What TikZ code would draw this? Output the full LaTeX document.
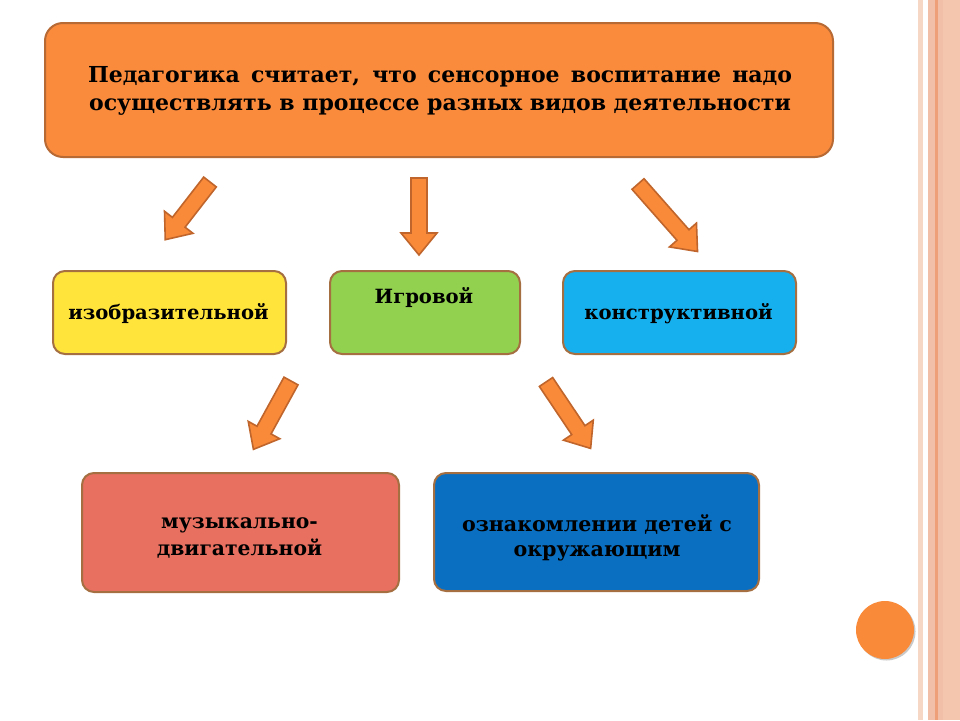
\documentclass[tikz,border=0pt]{standalone}
\usepackage{fontspec}
\setmainfont{DejaVu Serif}
\definecolor{orangebox}{HTML}{FA8B3D}
\definecolor{orangeline}{HTML}{B86A35}
\definecolor{boxline}{HTML}{A56F42}
\definecolor{yellowbox}{HTML}{FFE43C}
\definecolor{greenbox}{HTML}{92D050}
\definecolor{cyanbox}{HTML}{17B0EE}
\definecolor{redbox}{HTML}{E87060}
\definecolor{bluebox}{HTML}{0A6EC1}
\definecolor{arrowfill}{HTML}{F98A3A}
\definecolor{arrowline}{HTML}{C0652B}
\definecolor{stripeA}{HTML}{F6D6C4}
\definecolor{stripeB}{HTML}{F1BFA8}
\definecolor{stripeC}{HTML}{EE9F78}
\definecolor{stripeD}{HTML}{F4C6AE}
\newcommand\blockarrow[4]{%
  \coordinate (#1) at #2;
  \draw[arrowstyle, shift={(#1)}, rotate=#3]
    (0,-8) -- ({#4-22},-8) -- ({#4-22},-18) -- (#4,0) -- ({#4-22},18) -- ({#4-22},8) -- (0,8) -- cycle;
}
\begin{document}
\begin{tikzpicture}[x=1pt,y=-1pt,
  box/.style={draw=boxline, line width=2pt, rounded corners=12pt, inner sep=0pt, anchor=north west},
  txt/.style={font=\bfseries\fontsize{19.6}{26}\selectfont, align=center, text=black, inner sep=0pt},
  arrowstyle/.style={fill=arrowfill, draw=arrowline, line width=1.6pt, line join=miter}]
\useasboundingbox (0,0) rectangle (960,720);
\fill[white] (0,0) rectangle (960,720);
% right stripes
\fill[stripeA] (918,0) rectangle (923,720);
\fill[stripeB] (928,0) rectangle (935,720);
\fill[stripeC] (935,0) rectangle (937.5,720);
\fill[stripeB] (937.5,0) rectangle (943,720);
\fill[stripeD] (943,0) rectangle (960,720);
% circle
\fill[black!35, opacity=0.6] (886.5,631.5) circle (29);
\fill[arrowfill] (885,630) circle (29);
% boxes
\node[box, draw=orangeline, fill=orangebox, minimum width=788, minimum height=134, rounded corners=18pt] (top) at (44,22) {};
\node[txt, font=\bfseries\fontsize{22}{28}\selectfont] (toptext) at (440,91) {\makebox[704pt][s]{Педагогика считает, что сенсорное воспитание надо}\\осуществлять в процессе разных видов деятельности};
\node[box, fill=yellowbox, minimum width=233, minimum height=83] (izo) at (52,270) {};
\node[txt] (izotext) at (168.5,314) {изобразительной};
\node[box, fill=greenbox, minimum width=190, minimum height=83] (igr) at (329,270) {};
\node[txt] (igrtext) at (424,298) {Игровой};
\node[box, fill=cyanbox, minimum width=233, minimum height=83] (kon) at (562,270) {};
\node[txt] (kontext) at (678.5,314) {конструктивной};
\node[box, fill=redbox, minimum width=317, minimum height=119] (muz) at (81,472) {};
\node[txt, font=\bfseries\fontsize{20.3}{27}\selectfont] (muztext) at (239.5,538) {музыкально-\\двигательной};
\node[box, fill=bluebox, minimum width=325, minimum height=118] (okr) at (433,472) {};
\node[txt, font=\bfseries\fontsize{20.6}{25}\selectfont] (okrtext) at (597,538) {ознакомлении детей с\\окружающим};
% block arrows
\blockarrow{a1}{(210,182)}{-127.8}{73}
\blockarrow{a2}{(419,178)}{-90}{77}
\blockarrow{a3}{(638,184)}{-48.6}{90}
\blockarrow{a4}{(291,381)}{-118.8}{78}
\blockarrow{a5}{(546,382)}{-56.1}{80}
\end{tikzpicture}
\end{document}
